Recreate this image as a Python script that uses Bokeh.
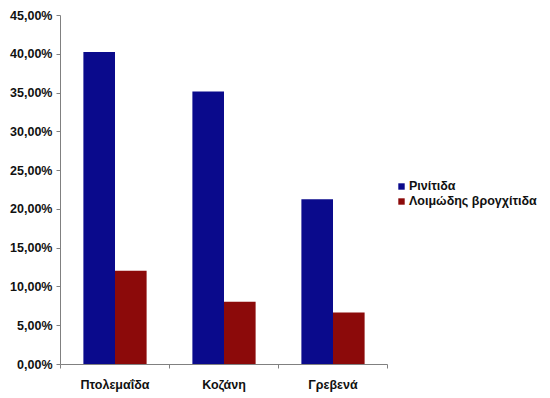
from bokeh.plotting import figure
from bokeh.models import ColumnDataSource, Range1d, FixedTicker, Legend, LegendItem
from bokeh.embed import file_html
from bokeh.resources import INLINE

cities = ["Πτολεμαΐδα", "Κοζάνη", "Γρεβενά"]
rinitida = [40.3, 35.2, 21.3]
loimodis = [12.1, 8.1, 6.7]
series_names = ["Ρινίτιδα", "Λοιμώδης βρογχίτιδα"]
y_ticks = [0, 5, 10, 15, 20, 25, 30, 35, 40, 45]
y_tick_labels = ["0,00%", "5,00%", "10,00%", "15,00%", "20,00%", "25,00%",
                 "30,00%", "35,00%", "40,00%", "45,00%"]

FONT = "Liberation Sans"
BLUE = "#0a0a8c"
RED = "#8c0a0a"

W, H = 550, 398
LEFT, RIGHT = 60, 4
CAT_PX = 109                      # pixel width of one category slot
n = len(cities)
frame_w = W - LEFT - RIGHT
centers = [i + 0.5 for i in range(n)]
BAR_W = 0.29

src = ColumnDataSource(data=dict(
    xr=[c - BAR_W / 2 for c in centers],
    xl=[c + BAR_W / 2 for c in centers],
    r=rinitida, l=loimodis))

p = figure(width=W, height=H, output_backend="svg", toolbar_location=None,
           x_range=Range1d(0, frame_w / CAT_PX), y_range=Range1d(0, 45),
           min_border_left=LEFT, min_border_top=15, min_border_bottom=34,
           min_border_right=RIGHT)
p.outline_line_color = None
p.xgrid.grid_line_color = None
p.ygrid.grid_line_color = None

r1 = p.vbar(x="xr", top="r", width=BAR_W, source=src, fill_color=BLUE, line_color=None)
r2 = p.vbar(x="xl", top="l", width=BAR_W, source=src, fill_color=RED, line_color=None)

p.yaxis.ticker = FixedTicker(ticks=y_ticks)
p.yaxis.major_label_overrides = {t: s for t, s in zip(y_ticks, y_tick_labels)}
p.xaxis.ticker = FixedTicker(ticks=centers, minor_ticks=list(range(n + 1)))
p.xaxis.major_label_overrides = {c: name for c, name in zip(centers, cities)}
p.xaxis.bounds = (0, n)

for ax in (p.xaxis[0], p.yaxis[0]):
    ax.axis_line_color = "#808080"
    ax.major_tick_line_color = "#808080"
    ax.major_label_text_font = FONT
    ax.major_label_text_font_style = "bold"
    ax.major_label_text_font_size = "12.5px"
    ax.major_label_text_color = "#111111"
p.yaxis.minor_tick_line_color = None
p.yaxis.major_tick_out = 4
p.yaxis.major_tick_in = 0
p.yaxis.major_label_standoff = 4
p.xaxis.major_tick_line_color = None
p.xaxis.minor_tick_line_color = "#808080"
p.xaxis.minor_tick_out = 4
p.xaxis.minor_tick_in = 0
p.xaxis.major_label_standoff = 7

legend = Legend(items=[LegendItem(label=series_names[0], renderers=[r1]),
                       LegendItem(label=series_names[1], renderers=[r2])],
                location=(337, 156), orientation="vertical",
                glyph_width=8, glyph_height=8, label_standoff=4, spacing=1,
                padding=0, margin=0, border_line_color=None, background_fill_alpha=0,
                label_text_font=FONT, label_text_font_style="bold",
                label_text_font_size="12.5px", label_text_color="#111111")
p.add_layout(legend)

open("out.html", "w").write(file_html(p, INLINE))
